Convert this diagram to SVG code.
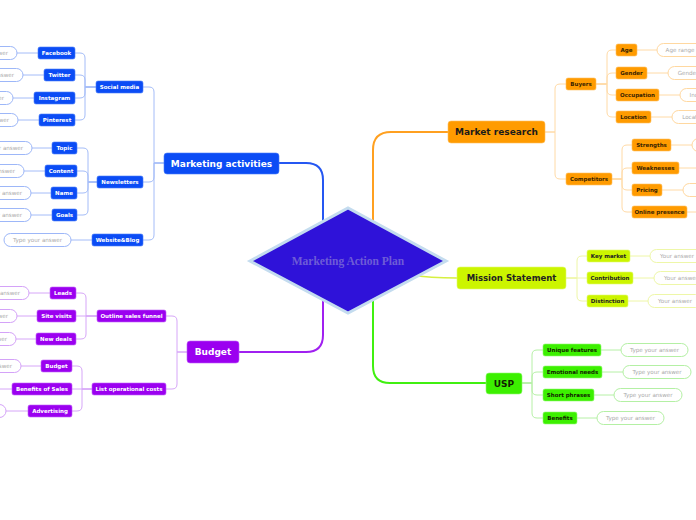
<svg xmlns="http://www.w3.org/2000/svg" width="696" height="520" viewBox="0 0 696 520">
<style>
text{font-family:"DejaVu Sans","Liberation Sans",sans-serif;text-anchor:middle}
.m{font-size:9px;font-weight:bold}
.c{font-size:5.5px;font-weight:bold}
.p{font-size:5.6px;fill:#aaaaaa}
.pill{fill:#fff;stroke-width:1}
.bl rect.n{fill:#0b4cf5;stroke:#4a7cf8;stroke-width:0.6}
.bl text.c,.bl text.m{fill:#fff}
.bl .pill{stroke:#9db7f8}
.pu rect.n{fill:#9b00f0;stroke:#c060f8;stroke-width:0.6}
.pu text.c,.pu text.m{fill:#fff}
.pu .pill{stroke:#d4a2f8}
.or rect.n{fill:#ff9b00;stroke:#ffc060;stroke-width:0.6}
.or text.c{fill:#3a2400}
.or text.m{fill:#1a1a1a}
.or .pill{stroke:#ffd8a0}
.ye rect.n{fill:#ccf500;stroke:#e0fa70;stroke-width:0.6}
.ye text.c,.ye text.m{fill:#222}
.ye .pill{stroke:#eef7a8}
.gr rect.n{fill:#3cf000;stroke:#90f870;stroke-width:0.6}
.gr text.c,.gr text.m{fill:#112200}
.gr .pill{stroke:#b4f0a4}
#connectors path{fill:none}
.lb{stroke:#a4bcf8;stroke-width:1}
.lp{stroke:#d6a6f8;stroke-width:1}
.lo{stroke:#ffdaa6;stroke-width:1}
.ly{stroke:#eef6a6;stroke-width:1}
.lg{stroke:#b6f0a6;stroke-width:1}
</style>
<rect width="696" height="520" fill="#fff"/>
<g id="connectors">
<!-- main -->
<path d="M323,235 V180 Q323,163 306,163 H279" stroke="#2557f2" stroke-width="2"/>
<path d="M373,235 V150 Q373,132 391,132 H448" stroke="#ffa020" stroke-width="2"/>
<path d="M410,275 Q430,278 457,278" stroke="#d6f040" stroke-width="1.5"/>
<path d="M323,290 V335 Q323,352 306,352 H239" stroke="#a020f0" stroke-width="2"/>
<path d="M373,290 V366 Q373,383 390,383 H486" stroke="#40f010" stroke-width="2"/>
<!-- marketing activities -->
<path class="lb" d="M164,163 H154 V92 Q154,87 149,87 H143"/>
<path class="lb" d="M164,163 H154 V177 Q154,182 149,182 H143"/>
<path class="lb" d="M164,163 H154 V235 Q154,240 149,240 H143"/>
<path class="lb" d="M96,87 H85 V58 Q85,53 80,53 H75"/>
<path class="lb" d="M96,87 H85 V80 Q85,75 80,75 H75"/>
<path class="lb" d="M96,87 H85 V93 Q85,98 80,98 H75"/>
<path class="lb" d="M96,87 H85 V115 Q85,120 80,120 H75"/>
<path class="lb" d="M97,182 H88 V153 Q88,148 83,148 H77"/>
<path class="lb" d="M97,182 H88 V176 Q88,171 83,171 H77"/>
<path class="lb" d="M97,182 H88 V188 Q88,193 83,193 H77"/>
<path class="lb" d="M97,182 H88 V210 Q88,215 83,215 H77"/>
<path class="lb" d="M38,53 H17 M44,75 H23 M34,98 H13 M39,120 H18 M52,148 H32 M45,171 H24 M51,193 H31 M52,215 H31 M92,240 H71"/>
<!-- budget -->
<path class="lp" d="M187,352 H177 V321 Q177,316 172,316 H166"/>
<path class="lp" d="M187,352 H177 V384 Q177,389 172,389 H166"/>
<path class="lp" d="M97,316 H86 V298 Q86,293 81,293 H76"/>
<path class="lp" d="M97,316 H76"/>
<path class="lp" d="M97,316 H86 V334 Q86,339 81,339 H76"/>
<path class="lp" d="M92,389 H82 V371 Q82,366 77,366 H72"/>
<path class="lp" d="M92,389 H72"/>
<path class="lp" d="M92,389 H82 V406 Q82,411 77,411 H72"/>
<path class="lp" d="M50,293 H29 M37,316 H17 M36,339 H16 M41,366 H21 M12,389 H0 M28,411 H6"/>
<!-- market research -->
<path class="lo" d="M545,132 H555 V89 Q555,84 560,84 H566"/>
<path class="lo" d="M545,132 H555 V174 Q555,179 560,179 H566"/>
<path class="lo" d="M596,84 H607 V55 Q607,50 612,50 H616"/>
<path class="lo" d="M596,84 H607 V78 Q607,73 612,73 H616"/>
<path class="lo" d="M596,84 H607 V90 Q607,95 612,95 H616"/>
<path class="lo" d="M596,84 H607 V112 Q607,117 612,117 H616"/>
<path class="lo" d="M612,179 H622 V150 Q622,145 627,145 H632"/>
<path class="lo" d="M612,179 H622 V173 Q622,168 627,168 H632"/>
<path class="lo" d="M612,179 H622 V185 Q622,190 627,190 H632"/>
<path class="lo" d="M612,179 H622 V207 Q622,212 627,212 H632"/>
<path class="lo" d="M637,50 H657 M647,73 H668 M659,95 H680 M651,117 H672 M671,145 H692 M679,168 H700 M662,190 H683 M687,212 H700"/>
<!-- mission -->
<path class="ly" d="M566,278 H577 V261 Q577,256 582,256 H587"/>
<path class="ly" d="M566,278 H587"/>
<path class="ly" d="M566,278 H577 V296 Q577,301 582,301 H587"/>
<path class="ly" d="M630,256 H650 M633,278 H654 M628,301 H648"/>
<!-- usp -->
<path class="lg" d="M522,383 H532 V355 Q532,350 537,350 H543"/>
<path class="lg" d="M522,383 H532 V377 Q532,372 537,372 H543"/>
<path class="lg" d="M522,383 H532 V390 Q532,395 537,395 H543"/>
<path class="lg" d="M522,383 H532 V413 Q532,418 537,418 H543"/>
<path class="lg" d="M601,350 H621 M602,372 H623 M594,395 H614 M577,418 H597"/>
</g>

<g id="center">
<polygon points="250,261 348,208 446,261 348,313" fill="#2f12d9" stroke="#c4dcef" stroke-width="3"/>
<text x="348" y="265" style="font-family:'Liberation Serif','DejaVu Serif',serif;font-size:11.5px;font-weight:bold;fill:#6e5cd6">Marketing Action Plan</text>
</g>

<g class="bl">
<g id="marketing-activities"><rect class="n" x="164" y="153" width="115" height="21" rx="3"/><text class="m" x="221.5" y="166.5">Marketing activities</text></g>
<g id="social-media"><rect class="n" x="96" y="81" width="47" height="12" rx="2"/><text class="c" x="119.5" y="89">Social media</text></g>
<g id="newsletters"><rect class="n" x="97" y="176" width="46" height="12" rx="2"/><text class="c" x="120" y="184">Newsletters</text></g>
<g id="website-blog"><rect class="n" x="92" y="234" width="51" height="12" rx="2"/><text class="c" x="117.5" y="242">Website&amp;Blog</text>
<rect class="pill" x="4" y="233.5" width="67" height="13" rx="6.5"/><text class="p" x="37.5" y="242">Type your answer</text></g>
<g id="facebook"><rect class="n" x="38" y="47" width="37" height="12" rx="2"/><text class="c" x="56.5" y="55">Facebook</text>
<rect class="pill" x="-50" y="46.5" width="67" height="13" rx="6.5"/><text class="p" x="-16.5" y="55">Type your answer</text></g>
<g id="twitter"><rect class="n" x="44" y="69" width="31" height="12" rx="2"/><text class="c" x="59.5" y="77">Twitter</text>
<rect class="pill" x="-44" y="68.5" width="67" height="13" rx="6.5"/><text class="p" x="-10.5" y="77">Type your answer</text></g>
<g id="instagram"><rect class="n" x="34" y="92" width="41" height="12" rx="2"/><text class="c" x="54.5" y="100">Instagram</text>
<rect class="pill" x="-54" y="91.5" width="67" height="13" rx="6.5"/><text class="p" x="-20.5" y="100">Type your answer</text></g>
<g id="pinterest"><rect class="n" x="39" y="114" width="36" height="12" rx="2"/><text class="c" x="57" y="122">Pinterest</text>
<rect class="pill" x="-49" y="113.5" width="67" height="13" rx="6.5"/><text class="p" x="-15.5" y="122">Type your answer</text></g>
<g id="topic"><rect class="n" x="52" y="142" width="25" height="12" rx="2"/><text class="c" x="64.5" y="150">Topic</text>
<rect class="pill" x="-35" y="141.5" width="67" height="13" rx="6.5"/><text class="p" x="-1.5" y="150">Type your answer</text></g>
<g id="content"><rect class="n" x="45" y="165" width="32" height="12" rx="2"/><text class="c" x="61" y="173">Content</text>
<rect class="pill" x="-43" y="164.5" width="67" height="13" rx="6.5"/><text class="p" x="-9.5" y="173">Type your answer</text></g>
<g id="name"><rect class="n" x="51" y="187" width="26" height="12" rx="2"/><text class="c" x="64" y="195">Name</text>
<rect class="pill" x="-36" y="186.5" width="67" height="13" rx="6.5"/><text class="p" x="-2.5" y="195">Type your answer</text></g>
<g id="goals"><rect class="n" x="52" y="209" width="25" height="12" rx="2"/><text class="c" x="64.5" y="217">Goals</text>
<rect class="pill" x="-36" y="208.5" width="67" height="13" rx="6.5"/><text class="p" x="-2.5" y="217">Type your answer</text></g>
</g>

<g class="pu">
<g id="budget"><rect class="n" x="187" y="341" width="52" height="22" rx="3"/><text class="m" x="213" y="355.3">Budget</text></g>
<g id="outline-sales-funnel"><rect class="n" x="97" y="310" width="69" height="12" rx="2"/><text class="c" x="131.5" y="318">Outline sales funnel</text></g>
<g id="list-operational-costs"><rect class="n" x="92" y="383" width="74" height="12" rx="2"/><text class="c" x="129" y="391">List operational costs</text></g>
<g id="leads"><rect class="n" x="50" y="287" width="26" height="12" rx="2"/><text class="c" x="63" y="295">Leads</text>
<rect class="pill" x="-38" y="286.5" width="67" height="13" rx="6.5"/><text class="p" x="-4.5" y="295">Type your answer</text></g>
<g id="site-visits"><rect class="n" x="37" y="310" width="39" height="12" rx="2"/><text class="c" x="56.5" y="318">Site visits</text>
<rect class="pill" x="-50" y="309.5" width="67" height="13" rx="6.5"/><text class="p" x="-16.5" y="318">Type your answer</text></g>
<g id="new-deals"><rect class="n" x="36" y="333" width="40" height="12" rx="2"/><text class="c" x="56" y="341">New deals</text>
<rect class="pill" x="-51" y="332.5" width="67" height="13" rx="6.5"/><text class="p" x="-17.5" y="341">Type your answer</text></g>
<g id="budget-item"><rect class="n" x="41" y="360" width="31" height="12" rx="2"/><text class="c" x="56.5" y="368">Budget</text>
<rect class="pill" x="-46" y="359.5" width="67" height="13" rx="6.5"/><text class="p" x="-12.5" y="368">Type your answer</text></g>
<g id="benefits-of-sales"><rect class="n" x="12" y="383" width="60" height="12" rx="2"/><text class="c" x="42" y="391">Benefits of Sales</text></g>
<g id="advertising"><rect class="n" x="28" y="405" width="44" height="12" rx="2"/><text class="c" x="50" y="413">Advertising</text>
<rect class="pill" x="-61" y="404.5" width="67" height="13" rx="6.5"/><text class="p" x="-27.5" y="413">Type your answer</text></g>
</g>

<g class="or">
<g id="market-research"><rect class="n" x="448" y="121" width="97" height="22" rx="3"/><text class="m" x="496.5" y="135.3">Market research</text></g>
<g id="buyers"><rect class="n" x="566" y="78" width="30" height="12" rx="2"/><text class="c" x="581" y="86">Buyers</text></g>
<g id="competitors"><rect class="n" x="566" y="173" width="46" height="12" rx="2"/><text class="c" x="589" y="181">Competitors</text></g>
<g id="age"><rect class="n" x="616" y="44" width="21" height="12" rx="2"/><text class="c" x="626.5" y="52">Age</text>
<rect class="pill" x="657" y="43.5" width="46" height="13" rx="6.5"/><text class="p" x="680" y="52">Age range</text></g>
<g id="gender"><rect class="n" x="616" y="67" width="31" height="12" rx="2"/><text class="c" x="631.5" y="75">Gender</text>
<rect class="pill" x="668" y="66.5" width="40" height="13" rx="6.5"/><text class="p" x="688" y="75">Gender</text></g>
<g id="occupation"><rect class="n" x="616" y="89" width="43" height="12" rx="2"/><text class="c" x="637.5" y="97">Occupation</text>
<rect class="pill" x="680" y="88.5" width="42" height="13" rx="6.5"/><text class="p" x="701" y="97">Industry</text></g>
<g id="location"><rect class="n" x="616" y="111" width="35" height="12" rx="2"/><text class="c" x="633.5" y="119">Location</text>
<rect class="pill" x="672" y="110.5" width="44" height="13" rx="6.5"/><text class="p" x="694" y="119">Location</text></g>
<g id="strengths"><rect class="n" x="632" y="139" width="39" height="12" rx="2"/><text class="c" x="651.5" y="147">Strengths</text>
<rect class="pill" x="692" y="138.5" width="60" height="13" rx="6.5"/></g>
<g id="weaknesses"><rect class="n" x="632" y="162" width="47" height="12" rx="2"/><text class="c" x="655.5" y="170">Weaknesses</text></g>
<g id="pricing"><rect class="n" x="632" y="184" width="30" height="12" rx="2"/><text class="c" x="647" y="192">Pricing</text>
<rect class="pill" x="683" y="183.5" width="50" height="13" rx="6.5"/><text class="p" x="708" y="192">Price</text></g>
<g id="online-presence"><rect class="n" x="632" y="206" width="55" height="12" rx="2"/><text class="c" x="659.5" y="214">Online presence</text></g>
</g>

<g class="ye">
<g id="mission-statement"><rect class="n" x="457" y="267" width="109" height="22" rx="3"/><text class="m" style="font-size:8.5px" x="511.5" y="281.2">Mission Statement</text></g>
<g id="key-market"><rect class="n" x="587" y="250" width="43" height="12" rx="2"/><text class="c" x="608.5" y="258">Key market</text>
<rect class="pill" x="650" y="249.5" width="54" height="13" rx="6.5"/><text class="p" x="677" y="258">Your answer</text></g>
<g id="contribution"><rect class="n" x="587" y="272" width="46" height="12" rx="2"/><text class="c" x="610" y="280">Contribution</text>
<rect class="pill" x="654" y="271.5" width="54" height="13" rx="6.5"/><text class="p" x="681" y="280">Your answer</text></g>
<g id="distinction"><rect class="n" x="587" y="295" width="41" height="12" rx="2"/><text class="c" x="607.5" y="303">Distinction</text>
<rect class="pill" x="648" y="294.5" width="54" height="13" rx="6.5"/><text class="p" x="675" y="303">Your answer</text></g>
</g>

<g class="gr">
<g id="usp"><rect class="n" x="486" y="373" width="36" height="21" rx="3"/><text class="m" x="504" y="386.8">USP</text></g>
<g id="unique-features"><rect class="n" x="543" y="344" width="58" height="12" rx="2"/><text class="c" x="572" y="352">Unique features</text>
<rect class="pill" x="621" y="343.5" width="67" height="13" rx="6.5"/><text class="p" x="654.5" y="352">Type your answer</text></g>
<g id="emotional-needs"><rect class="n" x="543" y="366" width="59" height="12" rx="2"/><text class="c" x="572.5" y="374">Emotional needs</text>
<rect class="pill" x="623" y="365.5" width="68" height="13" rx="6.5"/><text class="p" x="657" y="374">Type your answer</text></g>
<g id="short-phrases"><rect class="n" x="543" y="389" width="51" height="12" rx="2"/><text class="c" x="568.5" y="397">Short phrases</text>
<rect class="pill" x="614" y="388.5" width="68" height="13" rx="6.5"/><text class="p" x="648" y="397">Type your answer</text></g>
<g id="benefits"><rect class="n" x="543" y="412" width="34" height="12" rx="2"/><text class="c" x="560" y="420">Benefits</text>
<rect class="pill" x="597" y="411.5" width="67" height="13" rx="6.5"/><text class="p" x="630.5" y="420">Type your answer</text></g>
</g>
</svg>
